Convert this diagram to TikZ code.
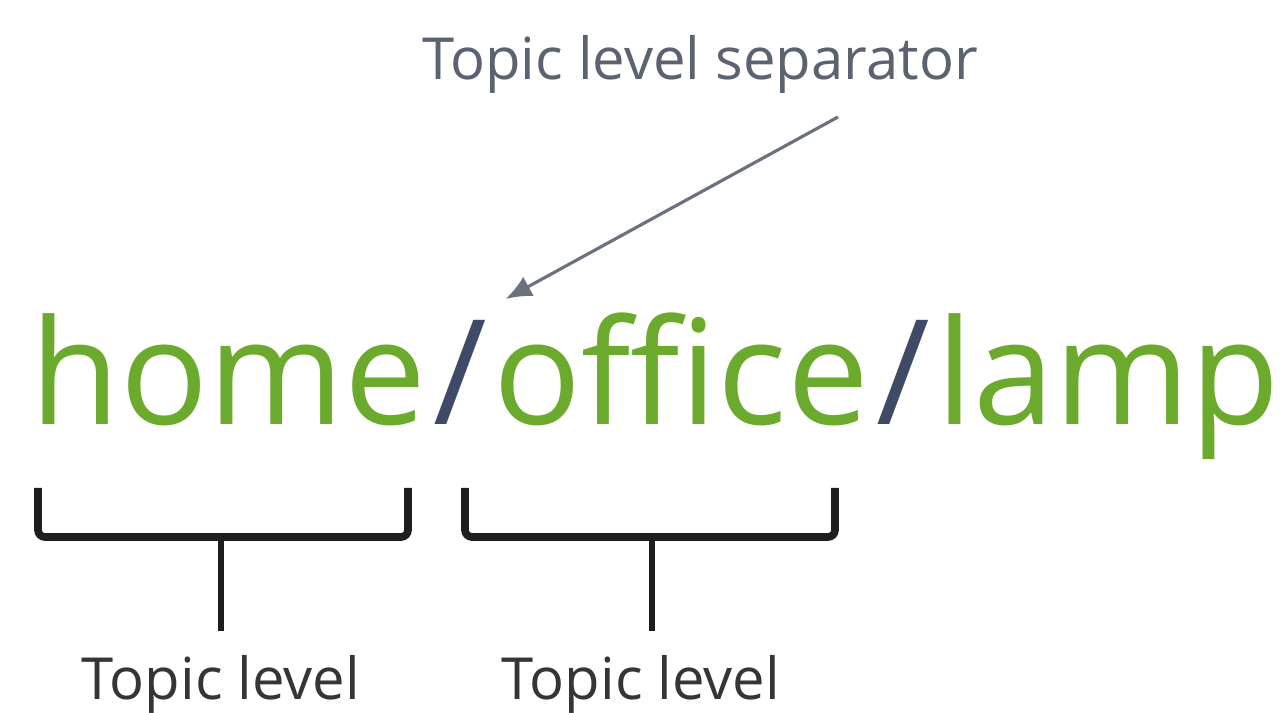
\documentclass[tikz,border=0pt]{standalone}
\usepackage{fontspec}
\setmainfont{Open Sans}
\usepackage{xcolor}
\usetikzlibrary{arrows.meta,positioning,calc}
\definecolor{topicgreen}{HTML}{6BAA2C}
\definecolor{sepslate}{HTML}{3E4A66}
\definecolor{labelgray}{HTML}{5B6270}
\definecolor{bracketink}{HTML}{1E1E1E}

\begin{document}
\begin{tikzpicture}[
    x=0.01cm,y=-0.01cm,
    word/.style     = {font=\fontsize{41.5}{41.5}\selectfont, text=topicgreen,
                       inner sep=0pt, anchor=base west},
    slash/.style    = {font=\fontsize{41.5}{41.5}\selectfont, text=sepslate,
                       inner ysep=0pt, inner xsep=1.6pt, anchor=base west},
    caption/.style  = {font=\fontsize{16.5}{16.5}\selectfont, text=labelgray,
                       inner sep=0pt},
    lvl/.style      = {font=\fontsize{16.5}{16.5}\selectfont, text=bracketink!90,
                       inner sep=7pt, anchor=base},
    brace/.style    = {bracketink, line width=2.2pt, rounded corners=2pt},
    stem/.style     = {bracketink, line width=1.5pt},
    pointer/.style  = {-{Latex[length=2.6mm,width=2.2mm]}, labelgray!90, line width=0.9pt},
  ]
  \useasboundingbox (0,0) rectangle (1281,713);

  % ── Topic string ────────────────────────────────────────────────────────
  \node[word]  (home)   at (30,425)         {home};
  \node[slash] (sepa)   at (home.base east) {/};
  \node[word]  (office) at (sepa.base east) {office};
  \node[slash] (sepb)   at (office.base east) {/};
  \node[word]  (lamp)   at (sepb.base east) {lamp};

  % ── Separator label ─────────────────────────────────────────────────────
  \node[caption,anchor=base] (seplabel) at (700,80) {Topic level separator};
  \coordinate (tail) at (838,117);
  \draw[pointer] (tail) -- ([xshift=13pt,yshift=6pt]sepa.north);

  % ── Brackets under the levels ───────────────────────────────────────────
  \draw[brace] (38,488) -- (38,537) -- (408,537) -- (408,488);
  \draw[brace] (465,488) -- (465,537) -- (835,537) -- (835,488);

  \node[lvl] (lvla) at (221,700) {Topic level};
  \node[lvl] (lvlb) at (641,700) {Topic level};

  \draw[stem] (221,537) -- (lvla.north);
  \draw[stem] (652,537) -- (lvlb.north -| 652,0);

\end{tikzpicture}
\end{document}
